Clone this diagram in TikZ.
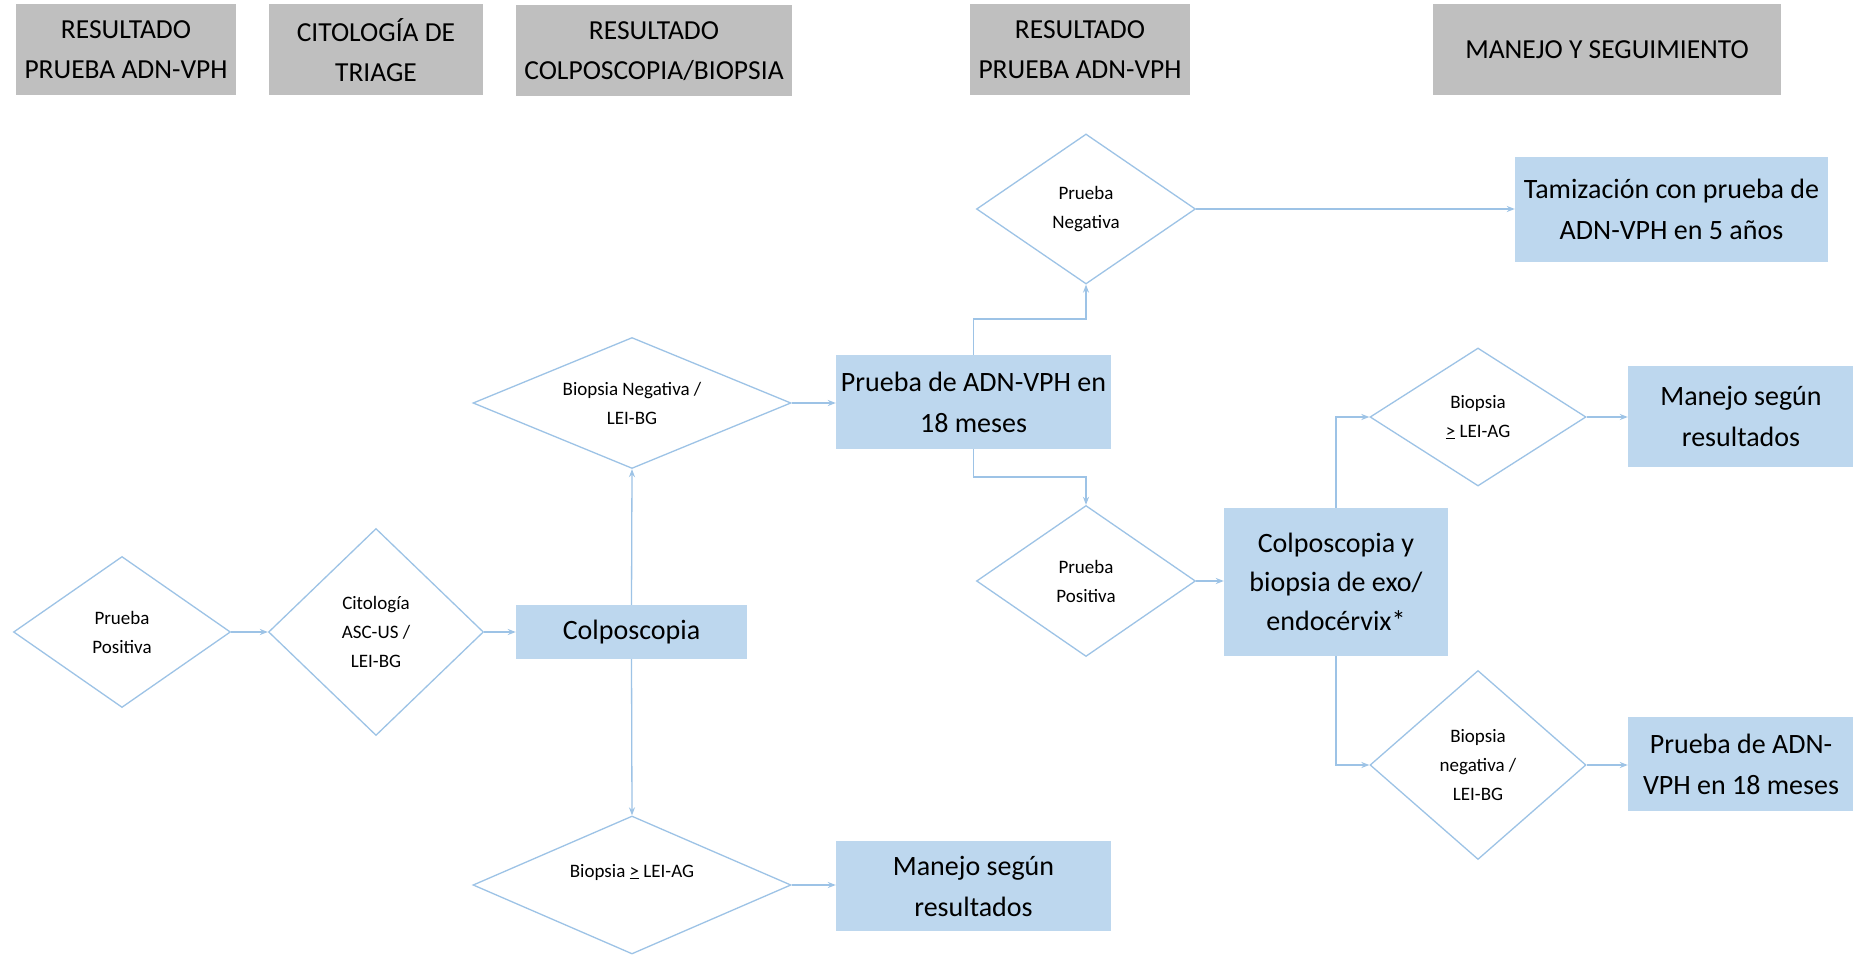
\documentclass[tikz,border=0pt]{standalone}
\usepackage{fontspec}
\setmainfont{Carlito}
\usetikzlibrary{shapes.geometric,arrows.meta}
\definecolor{hdrgray}{HTML}{BFBFBF}
\definecolor{boxblue}{HTML}{BDD7EE}
\definecolor{lineblue}{HTML}{9DC3E6}
\begin{document}
\begin{tikzpicture}[x=1pt,y=-1pt,
 hdr/.style={fill=hdrgray, inner sep=0pt, align=center, font=\fontsize{27.5}{40}\selectfont},
 box/.style={fill=boxblue, inner sep=0pt, align=center, font=\fontsize{28}{41}\selectfont},
 dia/.style={diamond, draw=lineblue, line width=1.3pt, inner sep=0pt, align=center, font=\fontsize{19}{29}\selectfont},
 conn/.style={draw=lineblue, line width=1.3pt, -{Stealth[length=8pt,width=6pt]}}]
\useasboundingbox[fill=white] (0,0) rectangle (1853,957);

% headers
\node[hdr, minimum width=220pt, minimum height=91pt] (h1) at (126,50) {RESULTADO\\PRUEBA ADN-VPH};
\node[hdr, minimum width=214pt, minimum height=91pt] (h2) at (376,50) {CITOLOGÍA DE\\TRIAGE};
\node[hdr, minimum width=276pt, minimum height=91pt] (h3) at (654,51) {RESULTADO\\COLPOSCOPIA/BIOPSIA};
\node[hdr, minimum width=220pt, minimum height=91pt] (h4) at (1080,50) {RESULTADO\\PRUEBA ADN-VPH};
\node[hdr, minimum width=348pt, minimum height=91pt] (h5) at (1607,50) {MANEJO Y SEGUIMIENTO};

% diamonds
\node[dia, shape aspect=1.44, minimum width=217pt, minimum height=151pt] (d1) at (122,632) {Prueba\\Positiva};
\node[dia, shape aspect=1.04, minimum width=215pt, minimum height=207pt] (d2) at (376,632) {Citología\\ASC-US /\\LEI-BG};
\node[dia, shape aspect=2.4, minimum width=318pt, minimum height=131pt] (d3) at (632,403) {Biopsia Negativa /\\LEI-BG};
\node[dia, shape aspect=2.3, minimum width=318pt, minimum height=138pt] (d4) at (632,885) {Biopsia \underline{>} LEI-AG\\\mbox{}};
\node[dia, shape aspect=1.46, minimum width=219pt, minimum height=150pt] (d5) at (1086,209) {Prueba\\Negativa};
\node[dia, shape aspect=1.45, minimum width=219pt, minimum height=151pt] (d6) at (1086,581) {Prueba\\Positiva};
\node[dia, shape aspect=1.57, minimum width=216pt, minimum height=138pt] (d7) at (1478,417) {Biopsia\\\underline{>} LEI-AG};
\node[dia, shape aspect=1.14, minimum width=216pt, minimum height=189pt] (d8) at (1478,765) {Biopsia\\negativa /\\LEI-BG};

% boxes
\node[box, minimum width=231pt, minimum height=54pt] (colpo) at (631.5,632) {Colposcopia};
\node[box, minimum width=275pt, minimum height=90pt] (mb) at (973.5,886) {Manejo según\\resultados};
\node[box, minimum width=275pt, minimum height=94pt] (b18) at (973.5,402) {Prueba de ADN-VPH en\\18 meses};
\node[box, minimum width=313pt, minimum height=105pt] (tam) at (1671.5,209.5) {Tamización con prueba de\\ADN-VPH en 5 años};
\node[box, minimum width=224pt, minimum height=148pt, font=\fontsize{28}{39}\selectfont] (cb) at (1336,582) {Colposcopia y\\biopsia de exo/\\endocérvix*};
\node[box, minimum width=226pt, minimum height=101pt] (mr) at (1741,416.5) {Manejo según\\resultados};
\node[box, minimum width=226pt, minimum height=94pt] (pr) at (1741,764) {Prueba de ADN-\\VPH en 18 meses};

% junctions
\coordinate (j1) at (1086,319);
\coordinate (j2) at (1086,477);

% connectors
\draw[conn] (d1.east) -- (d2.west);
\draw[conn] (d2.east) -- (colpo.west);
\draw[conn] (colpo.north) -- (d3.south);
\draw[conn] (colpo.south) -- (d4.north);
\draw[conn] (d3.east) -- (b18.west |- d3.east);
\draw[conn] (d4.east) -- (mb.west |- d4.east);
\draw[conn] (b18.north) -- (b18.north |- j1) -- (j1) -- (d5.south);
\draw[conn] (b18.south) -- (b18.south |- j2) -- (j2) -- (d6.north);
\draw[conn] (d5.east) -- (tam.west |- d5.east);
\draw[conn] (d6.east) -- (cb.west |- d6.east);
\draw[conn] (cb.north) |- (d7.west);
\draw[conn] (cb.south) |- (d8.west);
\draw[conn] (d7.east) -- (mr.west |- d7.east);
\draw[conn] (d8.east) -- (pr.west |- d8.east);
\end{tikzpicture}
\end{document}
